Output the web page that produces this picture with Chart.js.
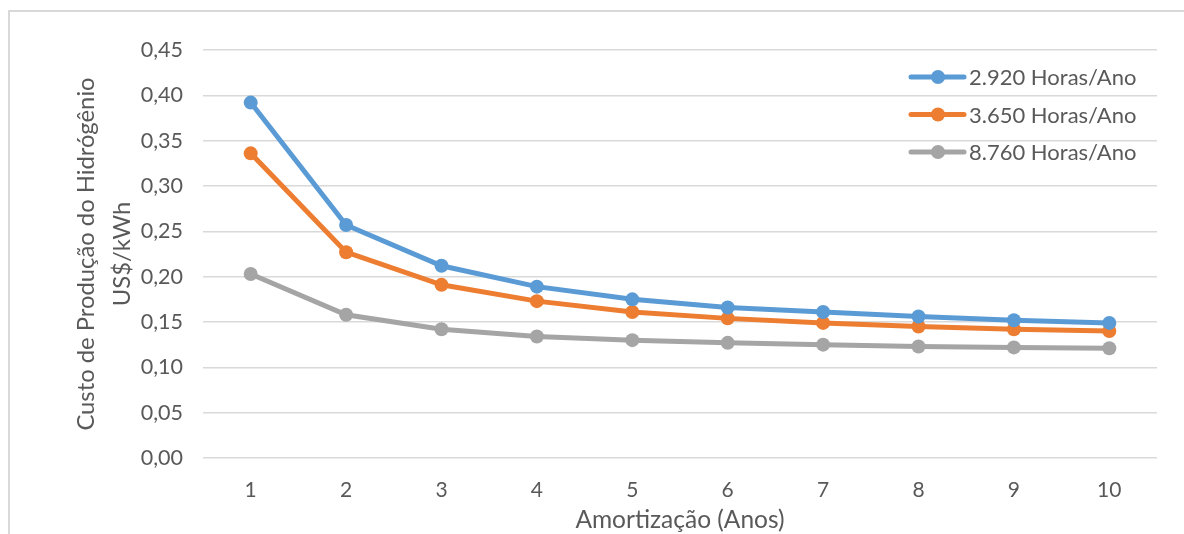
<!DOCTYPE html>
<html>
<head>
<meta charset="utf-8">
<script src="https://cdn.jsdelivr.net/npm/chart.js@4/dist/chart.umd.min.js"></script>
<style>
  html, body { margin: 0; padding: 0; background: #fff; }
  #wrap { position: relative; width: 1184px; height: 534px; overflow: hidden; }
  #frame { position: absolute; left: 8px; top: 10px; width: 1300px; height: 600px;
           border-left: 2px solid #d9d9d9; border-top: 2px solid #d9d9d9; }
  #cv { position: absolute; left: 0; top: 0; }
</style>
</head>
<body>
<div id="wrap">
  <div id="frame"></div>
  <canvas id="cv" width="1184" height="534"></canvas>
</div>
<script>
// Anos de amortização
var anos = ["1", "2", "3", "4", "5", "6", "7", "8", "9", "10"];

// Custo (US$/kWh) por regime de operação
var custo2920 = [0.392, 0.257, 0.212, 0.189, 0.175, 0.166, 0.161, 0.156, 0.152, 0.149];
var custo3650 = [0.336, 0.227, 0.191, 0.173, 0.161, 0.154, 0.149, 0.145, 0.142, 0.140];
var custo8760 = [0.203, 0.158, 0.142, 0.134, 0.130, 0.127, 0.125, 0.123, 0.122, 0.121];

var rotulos = ["2.920 Horas/Ano", "3.650 Horas/Ano", "8.760 Horas/Ano"];
var cores = ["#5B9BD5", "#ED7D31", "#A5A5A5"];

var fonte = "Lato, 'Open Sans', sans-serif";
var cinzaTexto = "#595959";

function serie(i, valores) {
    return {
        label: rotulos[i],
        data: valores,
        borderColor: cores[i],
        backgroundColor: cores[i],
        borderWidth: 5,
        pointRadius: 7,
        pointHoverRadius: 7,
        pointBorderWidth: 0,
        tension: 0
    };
}

// legenda desenhada dentro da área do gráfico, canto superior direito
var legendaInterna = {
    id: "legendaInterna",
    afterDraw: function(chart) {
        var ctx = chart.ctx;
        var x0 = chart.chartArea.right - 246;
        var y0 = chart.chartArea.top + 27;
        ctx.save();
        ctx.font = "22px " + fonte;
        ctx.textBaseline = "middle";
        chart.data.datasets.forEach(function(ds, i) {
            var y = y0 + i * 37.5;
            ctx.strokeStyle = ds.borderColor;
            ctx.lineWidth = 5;
            ctx.lineCap = "round";
            ctx.beginPath();
            ctx.moveTo(x0, y);
            ctx.lineTo(x0 + 53, y);
            ctx.stroke();
            ctx.fillStyle = ds.backgroundColor;
            ctx.beginPath();
            ctx.arc(x0 + 27, y, 7, 0, Math.PI * 2);
            ctx.fill();
            ctx.fillStyle = cinzaTexto;
            ctx.fillText(ds.label, x0 + 58, y + 1);
        });
        ctx.restore();
    }
};

new Chart(document.getElementById("cv").getContext("2d"), {
    type: "line",
    data: {
        labels: anos,
        datasets: [serie(0, custo2920), serie(1, custo3650), serie(2, custo8760)]
    },
    plugins: [legendaInterna],
    options: {
        responsive: false,
        animation: false,
        layout: { padding: { top: 50, right: 27, left: 0, bottom: 0 } },
        plugins: {
            legend: { display: false },
            tooltip: { enabled: false }
        },
        scales: {
            x: {
                offset: true,
                afterFit: function(scale) { scale.height = 76; },
                grid: { display: false, drawTicks: false },
                border: { display: false },
                ticks: {
                    padding: 20,
                    color: cinzaTexto,
                    font: { size: 21, family: fonte }
                },
                title: {
                    display: true,
                    text: "Amortização (Anos)",
                    color: cinzaTexto,
                    padding: { top: 0, bottom: 0 },
                    font: { size: 24.5, family: fonte, lineHeight: 1.1 }
                }
            },
            y: {
                min: 0,
                max: 0.45,
                afterFit: function(scale) { scale.width = 203; },
                grid: { color: "#d9d9d9", lineWidth: 1.5, drawTicks: false },
                border: { display: false },
                ticks: {
                    stepSize: 0.05,
                    padding: 20,
                    color: cinzaTexto,
                    font: { size: 21.5, family: fonte },
                    callback: function(v) { return v.toFixed(2).replace(".", ","); }
                },
                title: {
                    display: true,
                    text: ["Custo de Produção do Hidrógênio", "US$/kWh"],
                    color: cinzaTexto,
                    padding: { top: 68, bottom: 0 },
                    font: { size: 23.8, family: fonte, lineHeight: 36 / 23.8 }
                }
            }
        }
    }
});
</script>
</body>
</html>
